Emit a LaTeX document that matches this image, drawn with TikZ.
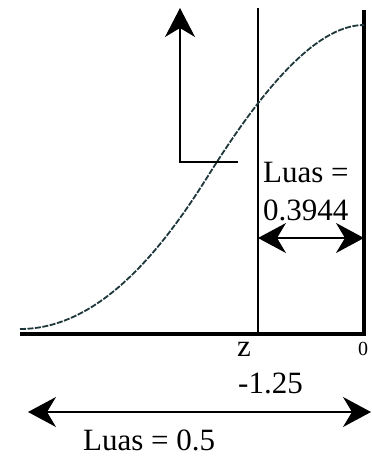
\documentclass[tikz,border=0pt]{standalone}
\usepackage{fontspec}
\setmainfont{Liberation Serif}
\usetikzlibrary{arrows.meta}
\begin{document}
\begin{tikzpicture}[x=1pt,y=-1pt,
  thinline/.style={line width=1.6pt,black},
  thickline/.style={line width=3.2pt,black},
  curve/.style={line width=1.8pt,color={rgb,255:red,30;green,55;blue,58},dash pattern=on 6pt off 1.5pt},
  bigtip/.style={-{Stealth[length=29pt,width=30pt,inset=9pt]}},
  dbltip/.style={{Stealth[length=28pt,width=30pt,inset=9pt]}-{Stealth[length=28pt,width=30pt,inset=9pt]}},
  lbl/.style={inner sep=0pt,font=\fontsize{31}{36}\selectfont}
]
\useasboundingbox (0,0) rectangle (372,458);
% axis and verticals
\coordinate (bl) at (20,334);
\coordinate (br) at (366,334);
\coordinate (rt) at (364,10);
\coordinate (rb) at (364,335.5);
\coordinate (zt) at (258,8);
\coordinate (zb) at (258,334);
\draw[thickline] (bl) -- (br);
\draw[thickline] (rt) -- (rb);
\draw[thinline] (zt) -- (zb);
% curve
\coordinate (c0) at (20,329);
\coordinate (c1) at (208,176);
\coordinate (c2) at (364,25);
\draw[curve] (c0) .. controls (100,329) and (163,248) .. (c1)
  .. controls (258,96) and (314,25) .. (c2);
% up arrow with corner
\coordinate (ah) at (238,162);
\coordinate (ac) at (180,162);
\coordinate (at) at (180,8);
\draw[thinline,bigtip] (ah) -- (ac) -- (at);
% labels
\node[lbl,anchor=base west] (l1) at (263,182) {Luas =};
\node[lbl,anchor=base west] (l2) at (263,220) {0.3944};
\coordinate (a1l) at (258,238);
\coordinate (a1r) at (364,238);
\draw[thinline,dbltip] (a1l) -- (a1r);
\node[lbl,anchor=base] (z) at (244,356) {z};
\node[inner sep=0pt,font=\fontsize{20}{22}\selectfont] (zero) at (363,349) {0};
\node[lbl,anchor=base west] (v) at (238,393) {-1.25};
\coordinate (a2l) at (28,412);
\coordinate (a2r) at (371,412);
\draw[thinline,dbltip] (a2l) -- (a2r);
\node[lbl,anchor=base west] (l3) at (83,450) {Luas = 0.5};
\end{tikzpicture}
\end{document}
